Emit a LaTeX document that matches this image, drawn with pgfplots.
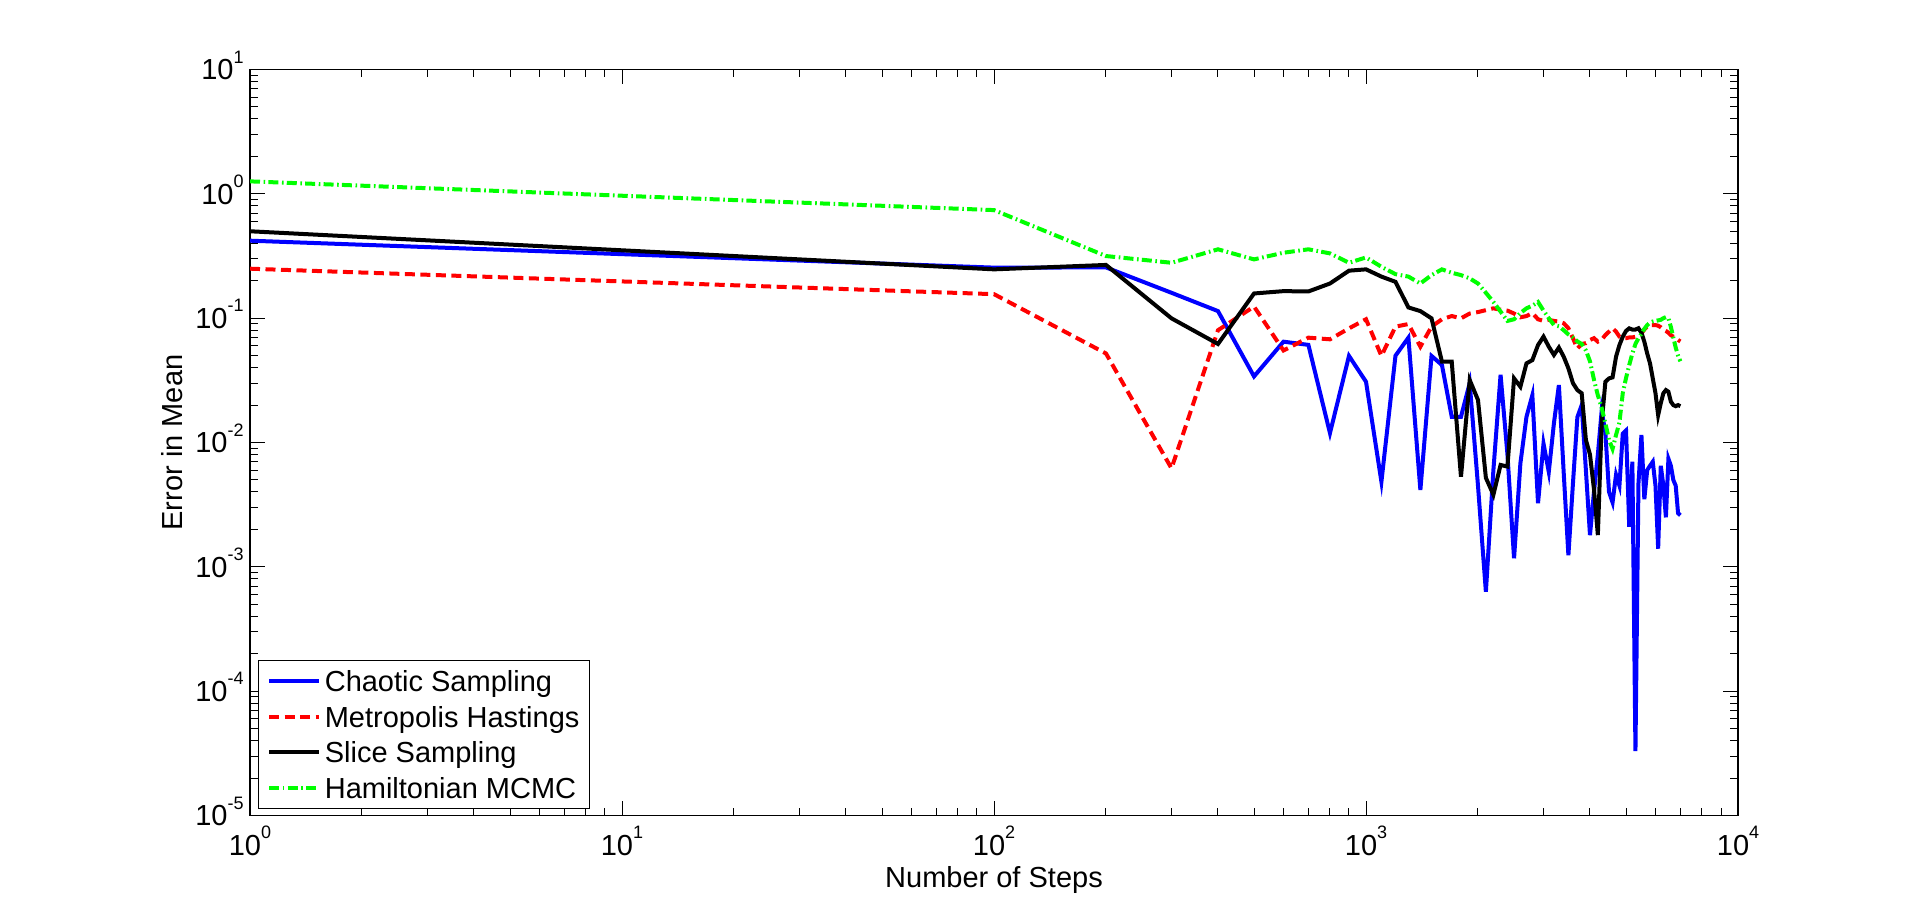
\documentclass[border=0pt]{standalone}
\usepackage{pgfplots}
\pgfplotsset{compat=1.18}
\usepackage{fontspec}
\setmainfont{Liberation Sans}
\setsansfont{Liberation Sans}
\newcommand{\tl}[1]{10\raisebox{8.3pt}{\fontsize{9}{9}\selectfont #1}}
\begin{document}
\begin{tikzpicture}
\useasboundingbox (0,0) rectangle (960pt,458.5pt);
\begin{axis}[
  at={(125pt,50.75pt)}, anchor=south west,
  scale only axis, width=744pt, height=373pt,
  xmode=log, ymode=log,
  xmin=1, xmax=10000, ymin=1e-5, ymax=10,
  xtick={1,10,100,1000,10000},
  xticklabels={\tl{0},\tl{1},\tl{2},\tl{3},\tl{4}},
  minor xtick={2,3,4,5,6,7,8,9,20,30,40,50,60,70,80,90,200,300,400,500,600,700,800,900,2000,3000,4000,5000,6000,7000,8000,9000},
  ytick={0.00001,0.0001,0.001,0.01,0.1,1,10},
  yticklabels={\tl{-5},\tl{-4},\tl{-3},\tl{-2},\tl{-1},\tl{0},\tl{1}},
  minor ytick={0.00002,0.00003,0.00004,0.00005,0.00006,0.00007,0.00008,0.00009,
    0.0002,0.0003,0.0004,0.0005,0.0006,0.0007,0.0008,0.0009,
    0.002,0.003,0.004,0.005,0.006,0.007,0.008,0.009,
    0.02,0.03,0.04,0.05,0.06,0.07,0.08,0.09,
    0.2,0.3,0.4,0.5,0.6,0.7,0.8,0.9,
    2,3,4,5,6,7,8,9},
  tick align=inside, xtick pos=both, ytick pos=both,
  major tick length=7.5pt, minor tick length=4pt,
  every tick/.style={black, line width=0.5pt},
  axis line style={line width=0.6pt},
  tick label style={font=\fontsize{14.5}{17}\selectfont},
  xticklabel style={anchor=base, inner sep=0pt, yshift=-19.75pt},
  yticklabel style={anchor=base east, inner sep=0pt, xshift=-3pt, yshift=-5.2pt},
  label style={font=\fontsize{14.5}{17}\selectfont},
  xlabel={Number of Steps},
  ylabel={Error in Mean},
  xlabel style={at={(axis description cs:0.5,-0.09584)}, anchor=base, inner sep=0pt},
  ylabel style={at={(axis description cs:-0.05208,0.5)}, anchor=center, inner sep=0pt},
  legend style={at={(axis description cs:0.00558,0.0083)}, anchor=south west,
    draw=black, line width=0.5pt, fill=white,
    inner xsep=4.2pt, inner ysep=1.65pt, column sep=0.8pt, row sep=0pt,
    font=\fontsize{14.5}{17}\selectfont,
    nodes={inner xsep=1pt, inner ysep=0pt, text height=14.075pt, text depth=3.675pt}},
  legend cell align=left,
  legend image code/.code={\draw[#1] (0pt,0pt) -- (25pt,0pt);},
]
\addplot[blue, line width=2pt] coordinates {
(1,0.42) (100,0.255) (200,0.256) (300,0.16) (400,0.114) (500,0.034) (600,0.0647)
(700,0.061) (800,0.0119) (900,0.0497) (1000,0.0308) (1100,0.00484) (1200,0.0499)
(1300,0.0697) (1400,0.00415) (1500,0.0497) (1600,0.042) (1700,0.0161) (1800,0.0161)
(1900,0.03) (2000,0.0045) (2100,0.00063) (2200,0.006) (2300,0.035) (2400,0.008)
(2500,0.00117) (2600,0.0068) (2700,0.0161) (2800,0.024) (2900,0.00325) (3000,0.0098)
(3100,0.0058) (3200,0.0143) (3300,0.029) (3400,0.0057) (3500,0.00124) (3600,0.0047)
(3700,0.016) (3800,0.020) (3900,0.006) (4000,0.0018) (4100,0.004) (4200,0.008)
(4300,0.018) (4400,0.012) (4500,0.004) (4600,0.0033) (4700,0.0055) (4800,0.0045)
(4900,0.0118) (5000,0.0125) (5100,0.0021) (5200,0.007) (5300,0.000033) (5400,0.0047)
(5500,0.0115) (5600,0.0035) (5700,0.006) (5800,0.0065) (5900,0.007) (6000,0.0045)
(6100,0.0014) (6200,0.0065) (6300,0.0045) (6400,0.0025) (6500,0.0074) (6600,0.0065)
(6700,0.005) (6800,0.0045) (6900,0.0027) (7000,0.0026)
};
\addlegendentry{Chaotic Sampling}
\addplot[red, line width=2pt, dash pattern=on 5pt off 2.75pt] coordinates {
(1,0.25) (100,0.156) (200,0.052) (300,0.0062) (400,0.080) (500,0.124) (600,0.055)
(700,0.0697) (800,0.0676) (900,0.0828) (1000,0.098) (1100,0.0497) (1200,0.0855)
(1300,0.0897) (1400,0.059) (1500,0.0855) (1600,0.098) (1700,0.104) (1800,0.0997)
(1900,0.109) (2000,0.112) (2100,0.116) (2200,0.12) (2300,0.117) (2400,0.115)
(2500,0.109) (2600,0.1016) (2700,0.104) (2800,0.11) (2900,0.098) (3000,0.095)
(3100,0.097) (3200,0.095) (3300,0.094) (3400,0.091) (3500,0.083) (3600,0.069)
(3700,0.057) (3800,0.062) (3900,0.063) (4000,0.0668) (4100,0.069) (4200,0.0647)
(4300,0.067) (4400,0.0732) (4500,0.078) (4600,0.083) (4700,0.078) (4800,0.071)
(4900,0.069) (5000,0.069) (5100,0.07) (5200,0.07) (5300,0.071) (5400,0.073)
(5500,0.0756) (5600,0.081) (5700,0.0855) (5800,0.088) (5900,0.088) (6000,0.088)
(6100,0.087) (6200,0.0845) (6300,0.081) (6400,0.079) (6500,0.0764) (6600,0.073)
(6700,0.071) (6800,0.069) (6900,0.0668) (7000,0.065)
};
\addlegendentry{Metropolis Hastings}
\addplot[black, line width=2pt] coordinates {
(1,0.50) (100,0.247) (200,0.268) (300,0.0997) (400,0.062) (500,0.158) (600,0.165)
(700,0.164) (800,0.19) (900,0.241) (1000,0.247) (1100,0.216) (1200,0.196)
(1300,0.122) (1400,0.114) (1500,0.0997) (1600,0.0447) (1700,0.0447) (1800,0.0053)
(1900,0.0318) (2000,0.022) (2100,0.0052) (2200,0.0038) (2300,0.0066) (2400,0.0064)
(2500,0.0328) (2600,0.0281) (2700,0.0433) (2800,0.046) (2900,0.0608) (3000,0.071)
(3100,0.059) (3200,0.0506) (3300,0.058) (3400,0.049) (3500,0.0395) (3600,0.030)
(3700,0.0264) (3800,0.0249) (3900,0.0105) (4000,0.008) (4100,0.0042) (4200,0.0018)
(4300,0.0143) (4400,0.0308) (4500,0.0328) (4600,0.0334) (4700,0.049) (4800,0.0608)
(4900,0.071) (5000,0.079) (5100,0.0828) (5200,0.081) (5300,0.081) (5400,0.083)
(5500,0.0764) (5600,0.0647) (5700,0.052) (5800,0.0433) (5900,0.0328) (6000,0.0249)
(6100,0.0166) (6200,0.0207) (6300,0.0249) (6400,0.0264) (6500,0.0256) (6600,0.0213)
(6700,0.020) (6800,0.0196) (6900,0.020) (7000,0.0196)
};
\addlegendentry{Slice Sampling}
\addplot[green, line width=2pt, dash pattern=on 5pt off 1.8pt on 0.8pt off 1.6pt] coordinates {
(1,1.26) (100,0.74) (200,0.316) (300,0.279) (400,0.358) (500,0.297) (600,0.336)
(700,0.358) (800,0.332) (900,0.279) (1000,0.308) (1100,0.259) (1200,0.226)
(1300,0.216) (1400,0.19) (1500,0.222) (1600,0.247) (1700,0.232) (1800,0.222)
(1900,0.209) (2000,0.19) (2100,0.16) (2200,0.135) (2300,0.113) (2400,0.095)
(2500,0.098) (2600,0.11) (2700,0.12) (2800,0.126) (2900,0.135) (3000,0.115)
(3100,0.1) (3200,0.088) (3300,0.086) (3400,0.08) (3500,0.074) (3600,0.07)
(3700,0.065) (3800,0.062) (3900,0.055) (4000,0.045) (4100,0.032) (4200,0.024)
(4300,0.019) (4400,0.0143) (4500,0.0105) (4600,0.0089) (4700,0.0115) (4800,0.0145)
(4900,0.025) (5000,0.033) (5100,0.042) (5200,0.052) (5300,0.062) (5400,0.069)
(5500,0.075) (5600,0.082) (5700,0.088) (5800,0.092) (5900,0.094) (6000,0.095)
(6100,0.096) (6200,0.097) (6300,0.1) (6400,0.102) (6500,0.1) (6600,0.085)
(6700,0.07) (6800,0.058) (6900,0.05) (7000,0.045)
};
\addlegendentry{Hamiltonian MCMC}
\end{axis}
\end{tikzpicture}
\end{document}
